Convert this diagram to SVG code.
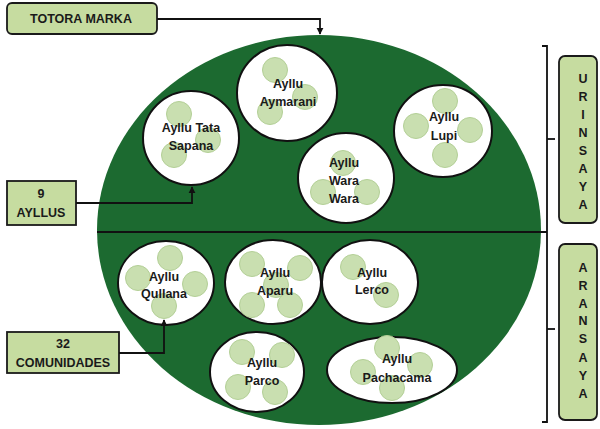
<svg xmlns="http://www.w3.org/2000/svg" width="600" height="429" viewBox="0 0 600 429">
<style>
.lbl{font-family:"Liberation Sans",Arial,sans-serif;font-weight:bold;font-size:12.5px;fill:#1a1a1a;text-anchor:middle}
.box{fill:#c6dca0;stroke:#1a1a1a;stroke-width:1.8}
.node{fill:#ffffff;stroke:#111;stroke-width:2}
.dot{fill:#c9dfb0;stroke:#b3cf96;stroke-width:1}
.conn{fill:none;stroke:#111;stroke-width:1.8}
.side{font-family:"Liberation Sans",Arial,sans-serif;font-weight:bold;font-size:12.5px;fill:#1a1a1a;text-anchor:middle}
</style>
<defs>
<marker id="arr" viewBox="0 0 10 10" refX="9" refY="5" markerWidth="4" markerHeight="4" orient="auto">
<path d="M0,0 L10,5 L0,10 z" fill="#111"/>
</marker>
</defs>
<rect width="600" height="429" fill="#ffffff"/>

<g id="marka-area">
<ellipse cx="319" cy="230" rx="222" ry="195" fill="#1c6a30"/>
<line x1="97" y1="232" x2="547" y2="232" stroke="#111" stroke-width="2"/>
</g>

<g id="totora-marka">
<rect class="box" x="7" y="3" width="150" height="31" rx="5"/>
<text class="lbl" x="81" y="23" font-size="13">TOTORA MARKA</text>
</g>

<g id="nueve-ayllus">
<rect class="box" x="7" y="181" width="69" height="44"/>
<text class="lbl" x="41" y="198">9</text>
<text class="lbl" x="41" y="217">AYLLUS</text>
</g>

<g id="comunidades">
<rect class="box" x="7" y="332" width="112" height="41"/>
<text class="lbl" x="63" y="348">32</text>
<text class="lbl" x="63" y="367">COMUNIDADES</text>
</g>

<g id="urinsaya">
<rect class="box" x="559" y="56" width="38" height="167" rx="6"/>
<text class="side" x="583" y="83">U</text>
<text class="side" x="583" y="101">R</text>
<text class="side" x="583" y="119">I</text>
<text class="side" x="583" y="137">N</text>
<text class="side" x="583" y="155">S</text>
<text class="side" x="583" y="173">A</text>
<text class="side" x="583" y="191">Y</text>
<text class="side" x="583" y="209">A</text>
</g>

<g id="aransaya">
<rect class="box" x="559" y="244" width="38" height="176" rx="6"/>
<text class="side" x="583" y="272">A</text>
<text class="side" x="583" y="290">R</text>
<text class="side" x="583" y="308">A</text>
<text class="side" x="583" y="325">N</text>
<text class="side" x="583" y="343">S</text>
<text class="side" x="583" y="362">A</text>
<text class="side" x="583" y="380">Y</text>
<text class="side" x="583" y="398">A</text>
</g>

<g id="ayllu-tata-sapana">
<ellipse class="node" cx="191" cy="138" rx="48" ry="47"/>
<circle class="dot" cx="179" cy="114" r="12.5"/>
<circle class="dot" cx="208" cy="140" r="12.5"/>
<circle class="dot" cx="174" cy="155" r="12.5"/>
<text class="lbl" x="191" y="132">Ayllu Tata</text>
<text class="lbl" x="191" y="150">Sapana</text>
</g>

<g id="ayllu-aymarani">
<ellipse class="node" cx="287" cy="93" rx="50" ry="48"/>
<circle class="dot" cx="275" cy="70" r="12.5"/>
<circle class="dot" cx="305" cy="97" r="12.5"/>
<circle class="dot" cx="270" cy="112" r="12.5"/>
<text class="lbl" x="288" y="88">Ayllu</text>
<text class="lbl" x="288" y="106">Aymarani</text>
</g>

<g id="ayllu-wara-wara">
<ellipse class="node" cx="346" cy="178" rx="48" ry="45"/>
<circle class="dot" cx="343" cy="163" r="12.5"/>
<circle class="dot" cx="323" cy="192" r="12.5"/>
<circle class="dot" cx="367" cy="192" r="12.5"/>
<text class="lbl" x="344" y="167">Ayllu</text>
<text class="lbl" x="344" y="185">Wara</text>
<text class="lbl" x="344" y="203">Wara</text>
</g>

<g id="ayllu-lupi">
<ellipse class="node" cx="443" cy="131" rx="49" ry="46"/>
<circle class="dot" cx="445" cy="101" r="12.5"/>
<circle class="dot" cx="416" cy="126" r="12.5"/>
<circle class="dot" cx="470" cy="130" r="12.5"/>
<circle class="dot" cx="445" cy="155" r="12.5"/>
<text class="lbl" x="444" y="121">Ayllu</text>
<text class="lbl" x="444" y="140">Lupi</text>
</g>

<g id="ayllu-qullana">
<ellipse class="node" cx="166" cy="283" rx="48" ry="42"/>
<circle class="dot" cx="170" cy="258" r="12.5"/>
<circle class="dot" cx="138" cy="278" r="12.5"/>
<circle class="dot" cx="195" cy="284" r="12.5"/>
<circle class="dot" cx="164" cy="306" r="12.5"/>
<text class="lbl" x="164" y="281">Ayllu</text>
<text class="lbl" x="164" y="298">Qullana</text>
</g>

<g id="ayllu-aparu">
<ellipse class="node" cx="273" cy="282" rx="48" ry="42"/>
<circle class="dot" cx="252" cy="264" r="12.5"/>
<circle class="dot" cx="300" cy="268" r="12.5"/>
<circle class="dot" cx="276" cy="285" r="12.5"/>
<circle class="dot" cx="252" cy="305" r="12.5"/>
<circle class="dot" cx="290" cy="305" r="12.5"/>
<text class="lbl" x="275" y="277">Ayllu</text>
<text class="lbl" x="275" y="295">Aparu</text>
</g>

<g id="ayllu-lerco">
<ellipse class="node" cx="370" cy="282" rx="48" ry="42"/>
<circle class="dot" cx="353" cy="267" r="12.5"/>
<circle class="dot" cx="386" cy="295" r="12.5"/>
<text class="lbl" x="372" y="277">Ayllu</text>
<text class="lbl" x="372" y="294">Lerco</text>
</g>

<g id="ayllu-parco">
<ellipse class="node" cx="257" cy="372" rx="47" ry="40"/>
<circle class="dot" cx="242" cy="352" r="12.5"/>
<circle class="dot" cx="282" cy="355" r="12.5"/>
<circle class="dot" cx="238" cy="387" r="12.5"/>
<circle class="dot" cx="275" cy="392" r="12.5"/>
<text class="lbl" x="262" y="367">Ayllu</text>
<text class="lbl" x="262" y="385">Parco</text>
</g>

<g id="ayllu-pachacama">
<ellipse class="node" cx="392" cy="370" rx="65" ry="33"/>
<circle class="dot" cx="387" cy="348" r="12.5"/>
<circle class="dot" cx="363" cy="372" r="12.5"/>
<circle class="dot" cx="420" cy="365" r="12.5"/>
<circle class="dot" cx="392" cy="388" r="12.5"/>
<text class="lbl" x="397" y="363">Ayllu</text>
<text class="lbl" x="397" y="382">Pachacama</text>
</g>

<g id="connectors">
<polyline class="conn" points="157,19 320,19 320,34" marker-end="url(#arr)"/>
<polyline class="conn" points="76,203 192,203 192,187" marker-end="url(#arr)"/>
<polyline class="conn" points="119,353 164,353 164,320" marker-end="url(#arr)"/>
<polyline class="conn" points="542,46 547,46 547,232"/>
<line class="conn" x1="547" y1="139" x2="555" y2="139"/>
<polyline class="conn" points="547,232 547,422 542,422"/>
<line class="conn" x1="547" y1="329" x2="555" y2="329"/>
</g>
</svg>
